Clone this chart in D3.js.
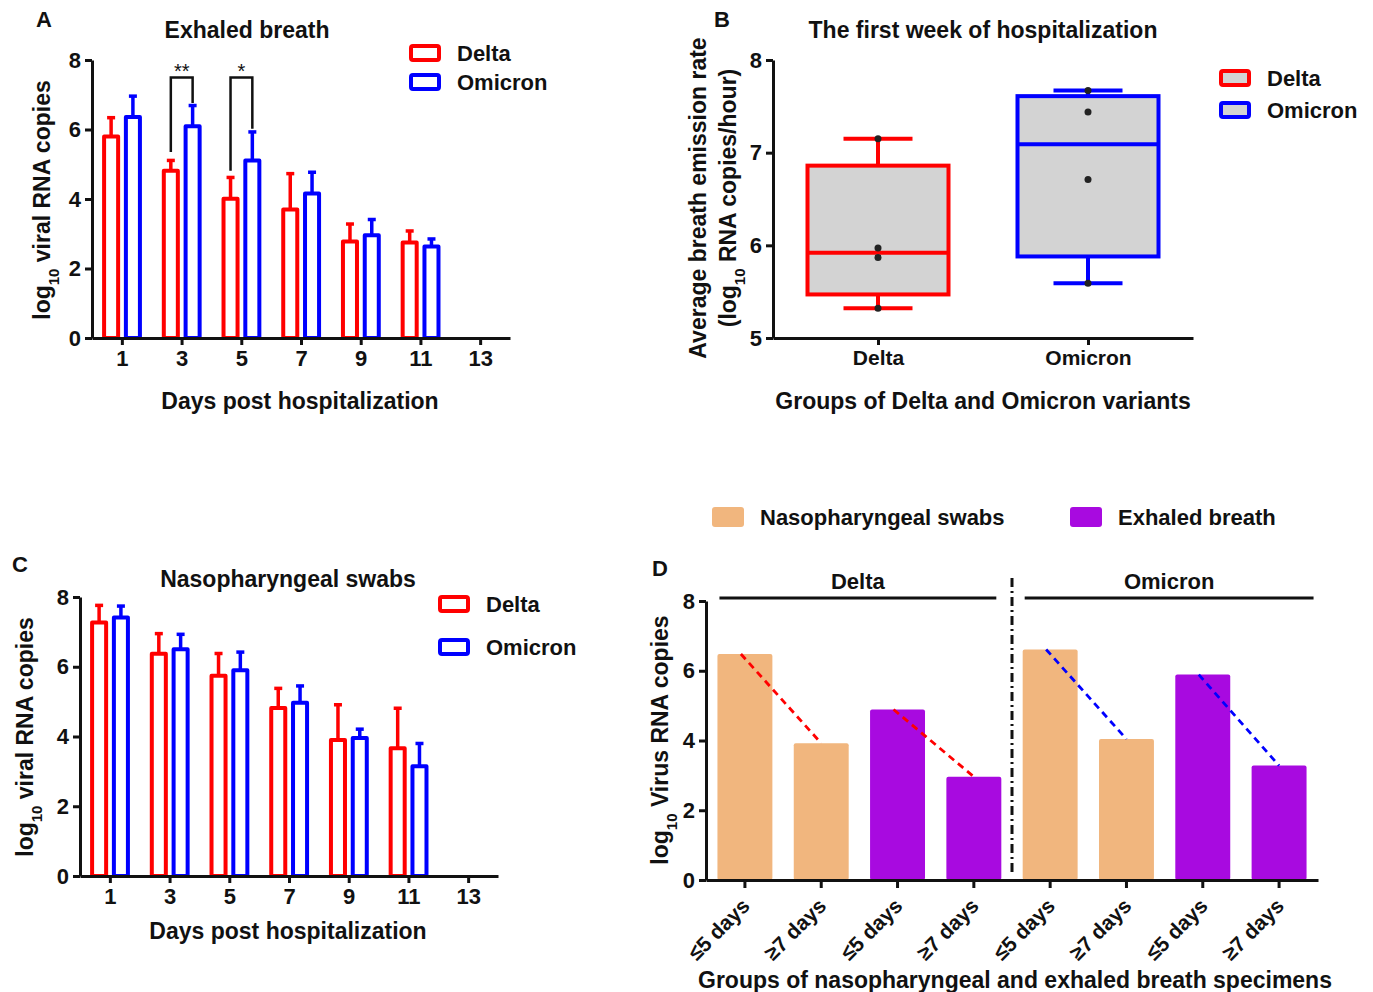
<!DOCTYPE html>
<html>
<head>
<meta charset="utf-8">
<script src="https://cdn.jsdelivr.net/npm/d3@7"></script>
<style>
  body { margin: 0; background: #fff; }
  svg text { font-family: "Liberation Sans", Arial, sans-serif; font-weight: bold; fill: #111; }
</style>
</head>
<body>
<svg id="chart" width="1373" height="992"></svg>
<script>
// ---------------- DATA ----------------
const days = [1, 3, 5, 7, 9, 11];
const xTickDays = [1, 3, 5, 7, 9, 11, 13];
const yTicksBar = [0, 2, 4, 6, 8];

// Panel A: exhaled breath (bar = mean, err = upper end of error bar)
const exhDelta      = [5.80, 4.81, 4.01, 3.70, 2.78, 2.75];
const exhDeltaErr   = [6.34, 5.11, 4.62, 4.73, 3.28, 3.08];
const exhOmicron    = [6.36, 6.09, 5.11, 4.16, 2.96, 2.63];
const exhOmicronErr = [6.96, 6.69, 5.93, 4.77, 3.41, 2.85];

// significance brackets in panel A
const sigDays   = [3, 5];
const sigLabels = ["**", "*"];
const sigTop    = [7.5, 7.5];
const sigLeftEnd  = [5.35, 4.81];
const sigRightEnd = [6.76, 6.02];

// Panel C: nasopharyngeal swabs
const npDelta      = [7.27, 6.37, 5.74, 4.82, 3.90, 3.66];
const npDeltaErr   = [7.76, 6.95, 6.38, 5.38, 4.91, 4.81];
const npOmicron    = [7.41, 6.50, 5.90, 4.97, 3.96, 3.15];
const npOmicronErr = [7.74, 6.93, 6.42, 5.45, 4.21, 3.80];

// Panel B: box plot
const boxGroups = ["Delta", "Omicron"];
const boxMin    = [5.32, 5.59];
const boxQ1     = [5.47, 5.88];
const boxMedian = [5.92, 7.09];
const boxQ3     = [6.86, 7.61];
const boxMax    = [7.15, 7.67];
const boxPointsDelta   = [7.15, 5.97, 5.87, 5.32];
const boxPointsOmicron = [7.67, 7.44, 6.71, 5.59];
const yTicksBox = [5, 6, 7, 8];

// Panel D
const dLabels   = ["≤5 days", "≥7 days", "≤5 days", "≥7 days", "≤5 days", "≥7 days", "≤5 days", "≥7 days"];
const dVariant  = ["Delta", "Delta", "Delta", "Delta", "Omicron", "Omicron", "Omicron", "Omicron"];
const dSpecimen = ["Nasopharyngeal swabs", "Nasopharyngeal swabs", "Exhaled breath", "Exhaled breath",
                   "Nasopharyngeal swabs", "Nasopharyngeal swabs", "Exhaled breath", "Exhaled breath"];
const dValues   = [6.48, 3.92, 4.89, 2.96, 6.61, 4.04, 5.89, 3.28];
const dTrendPairs = [[0, 1], [2, 3], [4, 5], [6, 7]];
const specimenNames = ["Nasopharyngeal swabs", "Exhaled breath"];

// ---------------- STYLE ----------------
const RED = "#ff0000", BLUE = "#0000ff", PEACH = "#f1b67e", PURPLE = "#a80ae0", GRAY = "#d3d3d3";
const TITLE = 23, TICK = 22, LEG = 22;
const svg = d3.select("#chart");

function styleAxis(g) {
  g.attr("font-family", null).attr("font-size", null);
  g.selectAll("path, line").attr("stroke", "#111").attr("stroke-width", 3);
  g.selectAll("text").style("font-size", TICK + "px").attr("fill", "#111");
}

function yTitle(x, y, parts, size) {
  const t = svg.append("text")
    .attr("transform", `translate(${x},${y}) rotate(-90)`)
    .attr("text-anchor", "middle").attr("dy", "0.35em")
    .style("font-size", size + "px");
  parts.forEach(p => {
    const s = t.append("tspan").text(p.t);
    if (p.sub) s.attr("baseline-shift", "sub").style("font-size", (size * 0.65) + "px");
  });
  return t;
}

function panelLetter(x, y, s) {
  svg.append("text").attr("x", x).attr("y", y).attr("text-anchor", "middle")
    .style("font-size", "22px").text(s);
}

// ---------- grouped bar panel (A and C) ----------
function barPanel(opt) {
  const x = d3.scaleLinear().domain([0, 14]).range([opt.x0, opt.x1]);
  const y = d3.scaleLinear().domain([0, 8]).range([opt.y0, opt.y1]);
  const pxPerDay = x(1) - x(0);
  const bw = 0.47 * pxPerDay;
  const series = [
    { vals: opt.delta, err: opt.deltaErr, off: -0.36, color: RED },
    { vals: opt.omicron, err: opt.omicronErr, off: 0.37, color: BLUE }
  ];
  const g = svg.append("g");
  series.forEach(s => {
    days.forEach((d, i) => {
      const cx = x(d + s.off);
      g.append("line").attr("x1", cx).attr("x2", cx).attr("y1", y(s.vals[i])).attr("y2", y(s.err[i]))
        .attr("stroke", s.color).attr("stroke-width", 3.5);
      g.append("line").attr("x1", cx - 4).attr("x2", cx + 4).attr("y1", y(s.err[i])).attr("y2", y(s.err[i]))
        .attr("stroke", s.color).attr("stroke-width", 3.5);
      g.append("rect").attr("x", cx - bw / 2).attr("width", bw)
        .attr("y", y(s.vals[i])).attr("height", y(0) - y(s.vals[i]))
        .attr("fill", "#fff").attr("stroke", s.color).attr("stroke-width", 4).attr("stroke-linejoin", "round");
    });
  });
  const xa = svg.append("g").attr("transform", `translate(0,${opt.y0})`)
    .call(d3.axisBottom(x).tickValues(xTickDays).tickSize(7).tickSizeOuter(0).tickPadding(5));
  styleAxis(xa);
  const ya = svg.append("g").attr("transform", `translate(${opt.x0},0)`)
    .call(d3.axisLeft(y).tickValues(yTicksBar).tickSize(7).tickSizeOuter(0).tickPadding(4));
  styleAxis(ya);
  return { x, y };
}

function outlineLegend(x, yTop, gap, items, fill) {
  items.forEach((it, i) => {
    const yy = yTop + i * gap;
    svg.append("rect").attr("x", x).attr("y", yy).attr("width", 28).attr("height", 14).attr("rx", 2)
      .attr("fill", fill).attr("stroke", it.color).attr("stroke-width", 4);
    svg.append("text").attr("x", x + 46).attr("y", yy + 7).attr("dy", "0.36em")
      .style("font-size", LEG + "px").text(it.name);
  });
}

// ============ PANEL A ============
panelLetter(44, 27, "A");
svg.append("text").attr("x", 247).attr("y", 38).attr("text-anchor", "middle").style("font-size", TITLE + "px").text("Exhaled breath");
const A = barPanel({ x0: 92, x1: 510, y0: 338, y1: 60,
  delta: exhDelta, deltaErr: exhDeltaErr, omicron: exhOmicron, omicronErr: exhOmicronErr });
sigDays.forEach((d, i) => {
  const xl = A.x(d - 0.36), xr = A.x(d + 0.37);
  svg.append("path")
    .attr("d", `M${xl},${A.y(sigLeftEnd[i])}V${A.y(sigTop[i])}H${xr}V${A.y(sigRightEnd[i])}`)
    .attr("fill", "none").attr("stroke", "#111").attr("stroke-width", 2.5);
  svg.append("text").attr("x", (xl + xr) / 2).attr("y", A.y(sigTop[i]) + 1).attr("text-anchor", "middle")
    .style("font-size", "20px").style("font-weight", "normal").text(sigLabels[i]);
});
svg.append("text").attr("x", 300).attr("y", 409).attr("text-anchor", "middle").style("font-size", TITLE + "px").text("Days post hospitalization");
yTitle(42, 200, [{ t: "log" }, { t: "10", sub: true }, { t: " viral RNA copies" }], TITLE);
outlineLegend(411, 46, 29, [{ name: "Delta", color: RED }, { name: "Omicron", color: BLUE }], "#fff");

// ============ PANEL C ============
panelLetter(20, 572, "C");
svg.append("text").attr("x", 288).attr("y", 587).attr("text-anchor", "middle").style("font-size", TITLE + "px").text("Nasopharyngeal swabs");
barPanel({ x0: 80, x1: 498, y0: 876, y1: 597,
  delta: npDelta, deltaErr: npDeltaErr, omicron: npOmicron, omicronErr: npOmicronErr });
svg.append("text").attr("x", 288).attr("y", 939).attr("text-anchor", "middle").style("font-size", TITLE + "px").text("Days post hospitalization");
yTitle(25, 737, [{ t: "log" }, { t: "10", sub: true }, { t: " viral RNA copies" }], TITLE);
outlineLegend(440, 597, 43, [{ name: "Delta", color: RED }, { name: "Omicron", color: BLUE }], "#fff");

// ============ PANEL B ============
panelLetter(722, 27, "B");
svg.append("text").attr("x", 983).attr("y", 38).attr("text-anchor", "middle").style("font-size", TITLE + "px").text("The first week of hospitalization");
{
  const x = d3.scalePoint().domain(boxGroups).range([773, 1193]).padding(0.5);
  const y = d3.scaleLinear().domain([5, 8]).range([338, 60]);
  const boxW = 141, capW = 69;
  const colors = [RED, BLUE];
  const pts = [boxPointsDelta, boxPointsOmicron];
  boxGroups.forEach((gName, i) => {
    const cx = x(gName), c = colors[i];
    const g = svg.append("g");
    g.append("line").attr("x1", cx).attr("x2", cx).attr("y1", y(boxMax[i])).attr("y2", y(boxQ3[i])).attr("stroke", c).attr("stroke-width", 4);
    g.append("line").attr("x1", cx).attr("x2", cx).attr("y1", y(boxQ1[i])).attr("y2", y(boxMin[i])).attr("stroke", c).attr("stroke-width", 4);
    g.append("line").attr("x1", cx - capW / 2).attr("x2", cx + capW / 2).attr("y1", y(boxMax[i])).attr("y2", y(boxMax[i])).attr("stroke", c).attr("stroke-width", 4);
    g.append("line").attr("x1", cx - capW / 2).attr("x2", cx + capW / 2).attr("y1", y(boxMin[i])).attr("y2", y(boxMin[i])).attr("stroke", c).attr("stroke-width", 4);
    g.append("rect").attr("x", cx - boxW / 2).attr("width", boxW).attr("y", y(boxQ3[i])).attr("height", y(boxQ1[i]) - y(boxQ3[i]))
      .attr("fill", GRAY).attr("stroke", c).attr("stroke-width", 4);
    g.append("line").attr("x1", cx - boxW / 2).attr("x2", cx + boxW / 2).attr("y1", y(boxMedian[i])).attr("y2", y(boxMedian[i])).attr("stroke", c).attr("stroke-width", 4);
    g.selectAll("circle").data(pts[i]).join("circle").attr("cx", cx).attr("cy", d => y(d)).attr("r", 3.5).attr("fill", "#222");
  });
  const xa = svg.append("g").attr("transform", "translate(0,338)")
    .call(d3.axisBottom(x).tickSize(7).tickSizeOuter(0).tickPadding(5));
  styleAxis(xa);
  xa.selectAll("text").style("font-size", "21px");
  const ya = svg.append("g").attr("transform", "translate(773,0)")
    .call(d3.axisLeft(y).tickValues(yTicksBox).tickFormat(d3.format("d")).tickSize(7).tickSizeOuter(0).tickPadding(4));
  styleAxis(ya);
  svg.append("text").attr("x", 983).attr("y", 409).attr("text-anchor", "middle").style("font-size", TITLE + "px").text("Groups of Delta and Omicron variants");
  yTitle(698, 198, [{ t: "Average breath emission rate" }], TITLE);
  yTitle(728, 198, [{ t: "(log" }, { t: "10", sub: true }, { t: " RNA copies/hour)" }], TITLE);
  outlineLegend(1221, 71, 32, [{ name: "Delta", color: RED }, { name: "Omicron", color: BLUE }], GRAY);
}

// ============ PANEL D ============
panelLetter(660, 576, "D");
{
  const idx = d3.range(dValues.length);
  const x = d3.scaleBand().domain(idx).range([706, 1318]).paddingInner(0.28).paddingOuter(0.15);
  const y = d3.scaleLinear().domain([0, 8]).range([880, 601]);
  const color = d3.scaleOrdinal().domain(specimenNames).range([PEACH, PURPLE]);
  svg.append("g").selectAll("rect").data(idx).join("rect")
    .attr("x", i => x(i)).attr("width", x.bandwidth())
    .attr("y", i => y(dValues[i])).attr("height", i => y(0) - y(dValues[i]))
    .attr("rx", 2).attr("fill", i => color(dSpecimen[i]));
  dTrendPairs.forEach(([a, b]) => {
    svg.append("line")
      .attr("x1", x(a) + x.bandwidth() / 2 - 4).attr("y1", y(dValues[a]))
      .attr("x2", x(b) + x.bandwidth() / 2).attr("y2", y(dValues[b]))
      .attr("stroke", dVariant[a] === "Delta" ? RED : BLUE).attr("stroke-width", 2.8)
      .attr("stroke-dasharray", "7,5");
  });
  const variants = ["Delta", "Omicron"];
  variants.forEach(v => {
    const ids = idx.filter(i => dVariant[i] === v);
    const xs = x(ids[0]) + 2, xe = x(ids[ids.length - 1]) + x.bandwidth() + (v === "Delta" ? -5 : 7);
    svg.append("line").attr("x1", xs).attr("x2", xe).attr("y1", y(8) - 3).attr("y2", y(8) - 3)
      .attr("stroke", "#111").attr("stroke-width", 3);
    svg.append("text").attr("x", (xs + xe) / 2).attr("y", y(8) - 12).attr("text-anchor", "middle")
      .style("font-size", LEG + "px").text(v);
  });
  const divX = (x(3) + x.bandwidth() + x(4)) / 2;
  svg.append("line").attr("x1", divX).attr("x2", divX).attr("y1", y(8) - 23).attr("y2", y(0) - 8)
    .attr("stroke", "#111").attr("stroke-width", 3).attr("stroke-dasharray", "9,4,2,4");
  const xa = svg.append("g").attr("transform", "translate(0,880)")
    .call(d3.axisBottom(x).tickSize(8).tickSizeOuter(0).tickFormat(i => dLabels[i]));
  styleAxis(xa);
  xa.selectAll("text").style("font-size", "21px")
    .attr("text-anchor", "end").attr("transform", "translate(1,22) rotate(-45)").attr("dy", "0.35em").attr("y", 0).attr("x", 0);
  const ya = svg.append("g").attr("transform", "translate(706,0)")
    .call(d3.axisLeft(y).tickValues(yTicksBar).tickSize(7).tickSizeOuter(0).tickPadding(4));
  styleAxis(ya);
  svg.append("text").attr("x", 1015).attr("y", 988).attr("text-anchor", "middle").style("font-size", TITLE + "px")
    .text("Groups of nasopharyngeal and exhaled breath specimens");
  yTitle(660, 740, [{ t: "log" }, { t: "10", sub: true }, { t: " Virus RNA copies" }], TITLE);
  const legX = [712, 1070];
  specimenNames.forEach((n, i) => {
    svg.append("rect").attr("x", legX[i]).attr("y", 507).attr("width", 32).attr("height", 20).attr("rx", 3).attr("fill", color(n));
    svg.append("text").attr("x", legX[i] + 48).attr("y", 517).attr("dy", "0.36em").style("font-size", LEG + "px").text(n);
  });
}
</script>
</body>
</html>
